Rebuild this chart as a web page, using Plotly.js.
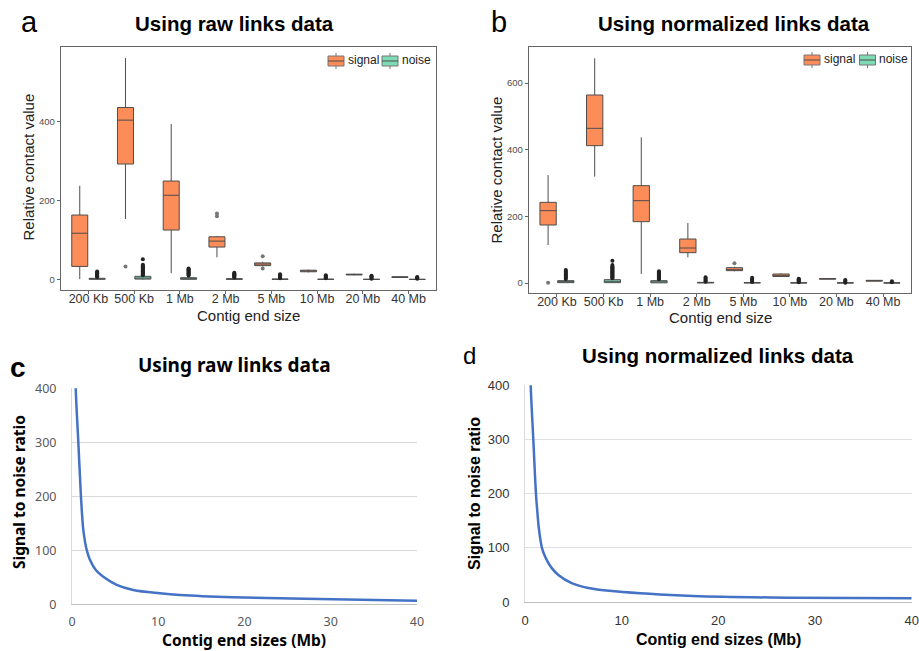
<!DOCTYPE html>
<html>
<head>
<meta charset="utf-8">
<script src="https://cdn.plot.ly/plotly-3.0.1.min.js"></script>
<style>html,body{margin:0;padding:0;background:#fff}#chart{width:919px;height:651px}</style>
</head>
<body>
<div id="chart"></div>
<script>
// ---------- DATA ----------
const categories = ['200 Kb','500 Kb','1 Mb','2 Mb','5 Mb','10 Mb','20 Mb','40 Mb'];

// Panel a: raw links data
const aSignalLow    = [1, 153, 16, 56, 33, 18, 10.5, 4.5];
const aSignalQ1     = [33, 292, 125, 82, 35, 19.5, 11.5, 5];
const aSignalMedian = [117, 403, 213, 97, 39, 21.5, 12.5, 6];
const aSignalQ3     = [163, 435, 249, 108, 42, 23.5, 13.5, 7];
const aSignalHigh   = [237, 560, 393, 110, 45, 25, 14.5, 8];
const aSignalOut    = [[], [33], [], [160, 167], [59, 28], [], [], []];
const aNoiseLow     = [0, 0, 0, 0, 0, 0, 0, 0];
const aNoiseQ1      = [0.5, 1, 0.5, 0.3, 0.2, 0.1, 0.1, 0.1];
const aNoiseMedian  = [1.5, 3, 2, 1, 0.6, 0.4, 0.3, 0.2];
const aNoiseQ3      = [3, 8, 4.5, 2, 1.2, 0.8, 0.6, 0.4];
const aNoiseHigh    = [5, 10, 9, 4.5, 2.5, 2, 1.5, 1];
const aNoiseOut     = [
  [6, 8, 10, 12, 14, 16, 18, 20],
  [11, 13, 15, 17, 19, 21, 23, 25, 27, 29, 31, 33, 35, 37, 51],
  [10, 12, 14, 16, 18, 20, 22, 24, 26, 28],
  [5, 7, 9, 11, 13, 15, 17],
  [3, 5, 7, 9, 11, 13],
  [3, 5, 7, 9, 11],
  [2, 4, 6, 8, 9.5],
  [2, 3.5, 5, 6]
];

// Panel b: normalized links data
const bSignalLow    = [114, 319, 27, 77, 35, 18, 11, 5];
const bSignalQ1     = [174, 412, 184, 91, 37, 19.5, 11.5, 5.5];
const bSignalMedian = [217, 464, 247, 105, 40, 23, 12.5, 7];
const bSignalQ3     = [242, 564, 292, 132, 46, 27, 13.5, 8];
const bSignalHigh   = [324, 674, 437, 180, 49, 29, 14.5, 9];
const bSignalOut    = [[1], [], [], [], [59], [], [], []];
const bNoiseLow     = [0, 0, 0, 0, 0, 0, 0, 0];
const bNoiseQ1      = [1, 1, 0.5, 0.3, 0.2, 0.1, 0.1, 0.1];
const bNoiseMedian  = [4, 5, 3, 1, 0.6, 0.4, 0.3, 0.2];
const bNoiseQ3      = [7, 10, 7, 2, 1.2, 0.8, 0.6, 0.4];
const bNoiseHigh    = [10, 12, 10, 3.5, 2.5, 2, 1.5, 1];
const bNoiseOut     = [
  [12, 15, 18, 21, 24, 27, 30, 33, 36, 39],
  [14, 17, 20, 23, 26, 29, 32, 35, 38, 41, 44, 47, 50, 54, 67],
  [11, 14, 17, 20, 23, 26, 29, 32, 35],
  [4, 7, 10, 13, 17],
  [3, 6, 9, 12, 16],
  [2, 5, 8, 11, 13],
  [1, 4, 7, 9],
  [2, 5]
];

// Panel c / d: signal-to-noise ratio curves
const cSizesMb = [0.38, 0.43, 0.73, 1.04, 1.16, 1.31, 1.7, 2.09, 2.78, 3.63, 5.18, 7.1, 10.2, 12.5, 18.7, 30.3, 40];
const cRatio   = [460, 400, 301, 199, 168, 138, 101, 82, 63, 51, 36, 26.5, 20.3, 17.2, 13, 9.2, 6.7];
const dSizesMb = [0.54, 0.59, 0.86, 1.14, 1.27, 1.42, 1.75, 2.15, 2.75, 3.45, 4.83, 6.55, 9.3, 17.4, 27.7, 40];
const dRatio   = [460, 400, 300, 198, 168, 138, 100, 81, 63, 50, 35, 26, 19.7, 11, 8, 6.8];

// ---------- STYLE ----------
const W = 919, H = 651;
const px = x => x / W;
const py = y => 1 - y / H;
const ORANGE = '#FC8D59';
const GREEN = '#7FDBB6';
const BOXLINE = '#4d4d4d';
const ARIAL = 'Liberation Sans, Arial, sans-serif';
const CJK = 'Noto Sans CJK SC, sans-serif';
const NOTO = 'Noto Sans, sans-serif';
const OFF = 0.19, BW = 0.35;

function boxTrace(xa, ya, off, fill, lo, q1, med, q3, hi) {
  return {
    type: 'box', xaxis: xa, yaxis: ya,
    x: categories.map((c, i) => i + 1 + off),
    lowerfence: lo, q1: q1, median: med, q3: q3, upperfence: hi,
    width: BW, whiskerwidth: 0,
    fillcolor: fill, line: {color: BOXLINE, width: 1},
    boxpoints: false, hoverinfo: 'skip', showlegend: false
  };
}
function outTrace(xa, ya, off, outs, color) {
  const xs = [], ys = [];
  outs.forEach((arr, i) => arr.forEach(v => { xs.push(i + 1 + off); ys.push(v); }));
  return {
    type: 'scatter', mode: 'markers', xaxis: xa, yaxis: ya,
    x: xs, y: ys, marker: {size: 4, color: color}, showlegend: false, hoverinfo: 'skip'
  };
}

const traces = [
  boxTrace('x', 'y', -OFF, ORANGE, aSignalLow, aSignalQ1, aSignalMedian, aSignalQ3, aSignalHigh),
  boxTrace('x', 'y', OFF, GREEN, aNoiseLow, aNoiseQ1, aNoiseMedian, aNoiseQ3, aNoiseHigh),
  outTrace('x', 'y', -OFF, aSignalOut, '#777'),
  outTrace('x', 'y', OFF, aNoiseOut, '#222'),
  boxTrace('x2', 'y2', -OFF, ORANGE, bSignalLow, bSignalQ1, bSignalMedian, bSignalQ3, bSignalHigh),
  boxTrace('x2', 'y2', OFF, GREEN, bNoiseLow, bNoiseQ1, bNoiseMedian, bNoiseQ3, bNoiseHigh),
  outTrace('x2', 'y2', -OFF, bSignalOut, '#777'),
  outTrace('x2', 'y2', OFF, bNoiseOut, '#222'),
  {type: 'scatter', mode: 'lines', xaxis: 'x3', yaxis: 'y3', x: cSizesMb, y: cRatio,
   line: {color: '#4472C4', width: 2.5, shape: 'spline', smoothing: 1}, showlegend: false, hoverinfo: 'skip'},
  {type: 'scatter', mode: 'lines', xaxis: 'x4', yaxis: 'y4', x: dSizesMb, y: dRatio,
   line: {color: '#4472C4', width: 2.5, shape: 'spline', smoothing: 1}, showlegend: false, hoverinfo: 'skip'}
];

const boxX = (dom, anchor) => ({
  domain: dom, anchor: anchor, range: [0.4, 8.6],
  tickmode: 'array', tickvals: categories.map((c, i) => i + 1), ticktext: categories,
  ticks: 'outside', ticklen: 3, tickcolor: '#666', tickwidth: 1, ticklabelstandoff: -6,
  showline: true, mirror: true, linecolor: '#666', linewidth: 1.3,
  showgrid: false, zeroline: false,
  tickfont: {family: ARIAL, size: 12.5, color: '#333'}
});
const boxY = (dom, anchor, range, vals) => ({
  domain: dom, anchor: anchor, range: range,
  tickmode: 'array', tickvals: vals,
  ticks: 'outside', ticklen: 3, tickcolor: '#666', tickwidth: 1,
  showline: true, mirror: true, linecolor: '#666', linewidth: 1.3,
  showgrid: false, zeroline: false,
  tickfont: {family: ARIAL, size: 9.5, color: '#4d4d4d'}
});

const layout = {
  width: W, height: H, margin: {l: 0, r: 0, t: 0, b: 0},
  paper_bgcolor: '#fff', plot_bgcolor: '#fff', showlegend: false,
  xaxis: boxX([px(61), px(436)], 'y'),
  yaxis: boxY([py(290), py(47)], 'x', [-26.6, 588], [0, 200, 400]),
  xaxis2: boxX([px(529), px(911)], 'y2'),
  yaxis2: boxY([py(293), py(47)], 'x2', [-30, 708], [0, 200, 400, 600]),
  xaxis3: {
    domain: [px(72), px(417)], anchor: 'y3', range: [0, 40], tickvals: [0, 10, 20, 30, 40],
    showline: true, linecolor: '#bfbfbf', linewidth: 1, showgrid: false, zeroline: false,
    ticks: 'outside', ticklen: 6, tickcolor: 'rgba(0,0,0,0)',
    tickfont: {family: NOTO, size: 12.5, color: '#595959'}
  },
  yaxis3: {
    domain: [py(604.3), py(388.3)], anchor: 'x3', range: [0, 400], tickvals: [0, 100, 200, 300, 400],
    showline: true, linecolor: '#d9d9d9', linewidth: 1, showgrid: true, gridcolor: '#d9d9d9', zeroline: false,
    ticks: 'outside', ticklen: 12, tickcolor: 'rgba(0,0,0,0)',
    tickfont: {family: NOTO, size: 12.5, color: '#595959'}
  },
  xaxis4: {
    domain: [px(525), px(911.7)], anchor: 'y4', range: [0, 40], tickvals: [0, 10, 20, 30, 40],
    showline: true, linecolor: '#bfbfbf', linewidth: 1, showgrid: false, zeroline: false,
    ticks: 'outside', ticklen: 6, tickcolor: 'rgba(0,0,0,0)',
    tickfont: {family: ARIAL, size: 13, color: '#333'}
  },
  yaxis4: {
    domain: [py(602), py(385.3)], anchor: 'x4', range: [0, 400], tickvals: [0, 100, 200, 300, 400],
    showline: true, linecolor: '#d9d9d9', linewidth: 1, showgrid: true, gridcolor: '#e0e0e0', zeroline: false,
    ticks: 'outside', ticklen: 12, tickcolor: 'rgba(0,0,0,0)',
    tickfont: {family: ARIAL, size: 13, color: '#333'}
  },
  shapes: [],
  annotations: []
};

function ann(text, x, y, font, extra) {
  layout.annotations.push(Object.assign({
    text: text, x: px(x), y: py(y), xref: 'paper', yref: 'paper',
    xanchor: 'center', yanchor: 'middle', showarrow: false, font: font
  }, extra || {}));
}
// panel letters
ann('a', 29, 22, {family: ARIAL, size: 29, color: '#000'});
ann('b', 499, 22, {family: ARIAL, size: 29, color: '#000'});
ann('c', 18, 367, {family: ARIAL, size: 28, color: '#000', weight: 'bold'});
ann('d', 470, 355, {family: ARIAL, size: 24, color: '#000'});
// titles
ann('Using raw links data', 234, 23, {family: ARIAL, size: 20.5, color: '#000', weight: 'bold'});
ann('Using normalized links data', 734, 23, {family: ARIAL, size: 20.5, color: '#000', weight: 'bold'});
ann('Using raw links data', 234, 365, {family: NOTO, size: 19, color: '#000', weight: 'bold'});
ann('Using normalized links data', 717.5, 355, {family: ARIAL, size: 20.5, color: '#000', weight: 'bold'});
// axis titles
ann('Relative contact value', 28.5, 167, {family: ARIAL, size: 15, color: '#222'}, {textangle: -90});
ann('Contig end size', 248, 315, {family: ARIAL, size: 15, color: '#222'});
ann('Relative contact value', 495.5, 170, {family: ARIAL, size: 15, color: '#222'}, {textangle: -90});
ann('Contig end size', 720, 317, {family: ARIAL, size: 15, color: '#222'});
ann('Signal to noise ratio', 19, 492, {family: NOTO, size: 15.5, color: '#000', weight: 'bold'}, {textangle: -90});
ann('Contig end sizes (Mb)', 244, 640, {family: NOTO, size: 15.5, color: '#000', weight: 'bold'});
ann('Signal to noise ratio', 474, 493, {family: ARIAL, size: 16, color: '#000', weight: 'bold'}, {textangle: -90});
ann('Contig end sizes (Mb)', 718, 639, {family: ARIAL, size: 16, color: '#000', weight: 'bold'});

// custom legends (key: box with median line and whisker)
function legendKey(x0, yc, fill) {
  const w = 16, h = 10;
  layout.shapes.push({type: 'line', xref: 'paper', yref: 'paper',
    x0: px(x0 + w / 2), x1: px(x0 + w / 2), y0: py(yc - 8), y1: py(yc + 8), line: {color: '#777', width: 1}});
  layout.shapes.push({type: 'rect', xref: 'paper', yref: 'paper',
    x0: px(x0), x1: px(x0 + w), y0: py(yc - h / 2), y1: py(yc + h / 2),
    fillcolor: fill, line: {color: '#777', width: 1}});
  layout.shapes.push({type: 'line', xref: 'paper', yref: 'paper',
    x0: px(x0), x1: px(x0 + w), y0: py(yc), y1: py(yc), line: {color: BOXLINE, width: 1}});
}
legendKey(328, 61, ORANGE);
legendKey(382, 61, GREEN);
ann('signal', 346, 60, {family: ARIAL, size: 12, color: '#222'}, {xanchor: 'left'});
ann('noise', 400, 60, {family: ARIAL, size: 12, color: '#222'}, {xanchor: 'left'});
legendKey(804, 60, ORANGE);
legendKey(859.5, 60, GREEN);
ann('signal', 822, 59, {family: ARIAL, size: 12, color: '#222'}, {xanchor: 'left'});
ann('noise', 877, 59, {family: ARIAL, size: 12, color: '#222'}, {xanchor: 'left'});

Plotly.newPlot('chart', traces, layout, {staticPlot: true, displayModeBar: false});
</script>
</body>
</html>
